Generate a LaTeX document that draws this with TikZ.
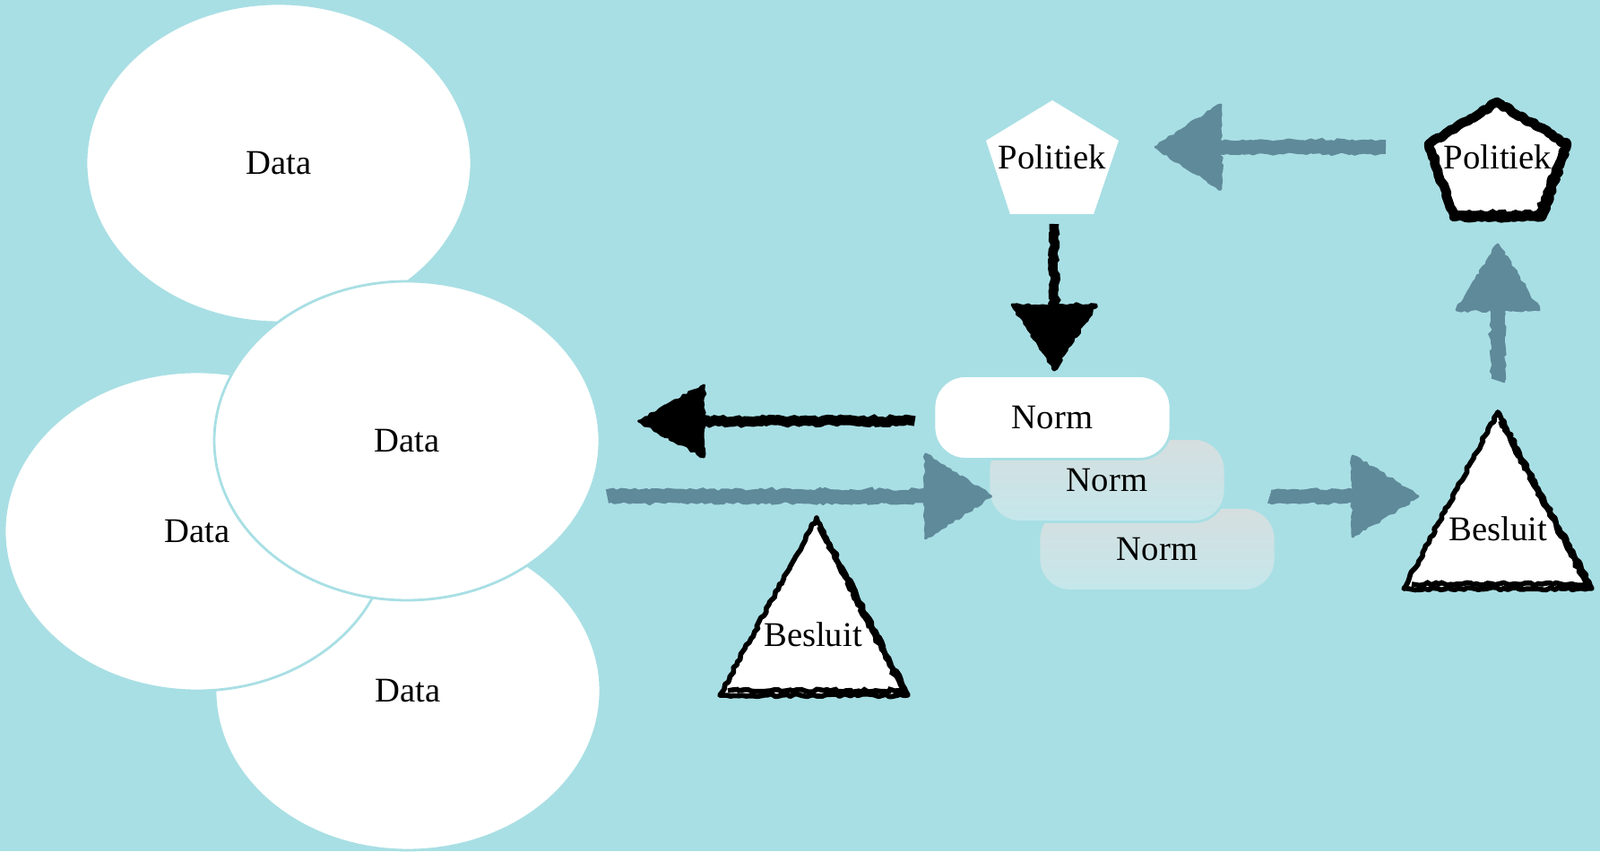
\documentclass[tikz,border=0pt]{standalone}
\usepackage{fontspec}
\setmainfont{Liberation Serif}
\usetikzlibrary{positioning,calc,decorations.pathmorphing,shapes.geometric}
\definecolor{bgblue}{HTML}{A8DFE4}
\definecolor{chalkgray}{HTML}{5F8A9A}
\definecolor{normtop}{HTML}{D6DEDF}
\definecolor{normbot}{HTML}{C4E7EB}
\tikzset{chalk/.style={decorate,decoration={random steps,segment length=1.2pt,amplitude=0.45pt}}}
\newcommand{\chalkarrow}[5]{%
  \coordinate (hb) at ($(#5)!0.73cm!(#4)$);
  \draw[chalk,draw=#1,line width=#2] (#4) -- ($(#5)!0.6cm!(#4)$);
  \filldraw[chalk,fill=#1,draw=#1,line width=0.8pt,line join=round] (#5) -- ($(hb)!#3!90:(#5)$) -- ($(hb)!#3!-90:(#5)$) -- cycle;}

\begin{document}
\begin{tikzpicture}[every node/.style={font=\fontsize{11}{13}\selectfont},
    data/.style={ellipse,fill=white,draw=bgblue,line width=0.8pt,minimum width=4.3cm,minimum height=3.56cm},
    norm/.style={rectangle,rounded corners=0.35cm,draw=bgblue,line width=0.8pt,minimum width=2.64cm,minimum height=0.93cm},
    rough/.style={chalk,fill=white,draw=black,line join=round}]
      \useasboundingbox (0,0) rectangle (17.85,9.5);
      \fill[bgblue] (0,0) rectangle (17.85,9.5);

      \node[data] (DataA) at (3.11,7.68) {Data};
      \node[data] (DataC) at (4.55,1.79) {Data};
      \node[data] (DataB) at (2.20,3.57) {Data};
      \node[data] (DataD) at (4.54,4.58) {Data};

      \fill[white] (11.74,8.38) -- (12.48,7.93) -- (12.20,7.11) -- (11.27,7.11) -- (11.00,7.93) -- cycle;
      \node (Pol1) at (11.74,7.75) {Politiek};
      \draw[rough,line width=3pt] (16.70,8.36) -- (17.48,7.89) -- (17.20,7.08) -- (16.22,7.08) -- (15.94,7.89) -- cycle;
      \draw[chalk,line width=1.2pt] (17.41,7.80) -- (17.15,7.13) -- (16.25,7.13);
      \node (Pol2) at (16.71,7.75) {Politiek};

      \draw[rough,line width=1.6pt] (9.11,3.72) -- (10.13,1.74) -- (8.03,1.74) -- cycle;
      \draw[chalk,line width=1.6pt] (9.14,3.62) -- (10.07,1.79) -- (8.12,1.79);
      \node (Besluit1) at (9.07,2.42) {Besluit};
      \draw[rough,line width=1.6pt] (16.71,4.90) -- (17.76,2.93) -- (15.66,2.93) -- cycle;
      \draw[chalk,line width=1.6pt] (16.74,4.80) -- (17.70,2.98) -- (15.75,2.98);
      \node (Besluit2) at (16.71,3.60) {Besluit};

      \node[norm,top color=normtop,bottom color=normbot] (Norm3) at (12.91,3.37) {Norm};
      \node[norm,top color=normtop,bottom color=normbot] (Norm2) at (12.35,4.14) {Norm};
      \node[norm,fill=white] (Norm1) at (11.74,4.84) {Norm};

      \coordinate (G1s) at ([xshift=-1.25cm,yshift=0.11cm]Pol2.center);
      \coordinate (G1e) at ([xshift=1.15cm,yshift=0.11cm]Pol1.center);
      \coordinate (G2s) at ([yshift=1.65cm]Besluit2.center);
      \coordinate (G2e) at ([yshift=-0.98cm]Pol2.center);
      \coordinate (G3s) at ([xshift=0.48cm,yshift=-0.18cm]Norm2.east);
      \coordinate (G3e) at ([xshift=-0.89cm,yshift=0.36cm]Besluit2.center);
      \coordinate (G4s) at ([xshift=0.07cm,yshift=-0.62cm]DataD.east);
      \coordinate (G4e) at ([xshift=0.04cm,yshift=-0.18cm]Norm2.west);
      \coordinate (B1s) at ([xshift=-0.20cm,yshift=-0.04cm]Norm1.west);
      \coordinate (B1e) at ([xshift=0.42cm,yshift=0.22cm]DataD.east);
      \coordinate (B2s) at ([xshift=0.02cm,yshift=-0.75cm]Pol1.center);
      \coordinate (B2e) at ([xshift=0.02cm,yshift=0.05cm]Norm1.north);

      \chalkarrow{chalkgray}{4.5pt}{0.47cm}{G1s}{G1e}
      \chalkarrow{chalkgray}{4.5pt}{0.46cm}{G2s}{G2e}
      \chalkarrow{chalkgray}{4.5pt}{0.45cm}{G3s}{G3e}
      \chalkarrow{chalkgray}{4.5pt}{0.47cm}{G4s}{G4e}
      \chalkarrow{black}{3.2pt}{0.40cm}{B1s}{B1e}
      \chalkarrow{black}{3pt}{0.47cm}{B2s}{B2e}
  \end{tikzpicture}
\end{document}
